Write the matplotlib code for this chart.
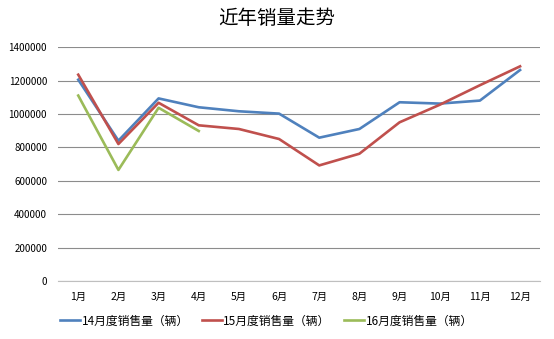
import matplotlib.pyplot as plt
import numpy as np

plt.rcParams['font.family'] = ['Noto Sans CJK SC', 'DejaVu Sans']

months = ['1月', '2月', '3月', '4月', '5月', '6月', '7月', '8月', '9月', '10月', '11月', '12月']
sales_14 = [1205000, 840000, 1093000, 1040000, 1016000, 1002000, 858000, 910000, 1070000, 1062000, 1080000, 1263000]
sales_15 = [1235000, 820000, 1067000, 932000, 910000, 850000, 692000, 762000, 950000, 1055000, 1172000, 1285000]
sales_16 = [1110000, 665000, 1037000, 898000]
labels = ['14月度销售量（辆）', '15月度销售量（辆）', '16月度销售量（辆）']
colors = ['#4F81BD', '#C0504D', '#9BBB59']

fig = plt.figure(figsize=(5.54, 3.39), dpi=100)
ax = fig.add_axes([0.105, 0.171, 0.87, 0.69])

x = np.arange(len(months))
for vals, lab, c in zip([sales_14, sales_15, sales_16], labels, colors):
    ax.plot(x[:len(vals)], vals, color=c, linewidth=1.9, label=lab)

ax.set_xlim(-0.5, 11.5)
ax.set_ylim(0, 1400000)
ax.set_yticks(np.arange(0, 1400001, 200000))
ax.set_yticklabels([str(v) for v in range(0, 1400001, 200000)], fontsize=7)
ax.set_xticks(x)
ax.set_xticklabels(months, fontsize=7.5)
ax.yaxis.grid(True, color='#8c8c8c', linewidth=0.8)
ax.set_axisbelow(True)
for s in ['top', 'right', 'left']:
    ax.spines[s].set_visible(False)
ax.spines['bottom'].set_color('#bfbfbf')
ax.tick_params(length=0, pad=8)

fig.suptitle('近年销量走势', fontsize=14, y=0.975, fontweight='medium')
fig.legend(loc='center left', bbox_to_anchor=(0.097, 0.053), ncol=3, frameon=False,
           borderpad=0, fontsize=8.5, handlelength=1.75, handletextpad=0.1,
           columnspacing=1.1)

fig.savefig('out.png', dpi=100)
